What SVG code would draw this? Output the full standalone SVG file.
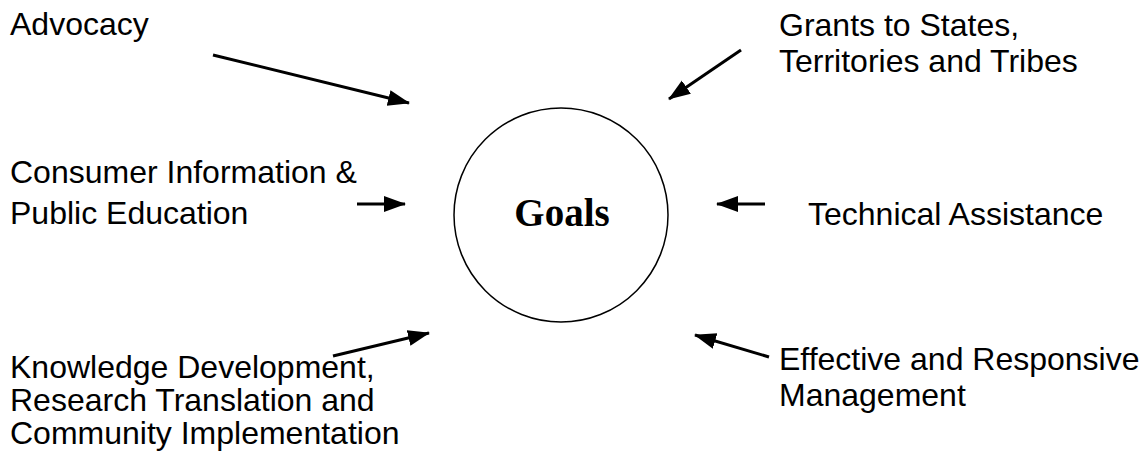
<svg xmlns="http://www.w3.org/2000/svg" width="1146" height="452" viewBox="0 0 1146 452">
<style>
.lbl{font-family:"Liberation Sans",Arial,sans-serif;font-size:32px;fill:#000}
.goal{font-family:"Liberation Serif","Times New Roman",serif;font-size:39px;font-weight:bold;fill:#000}
.arr{stroke:#000;stroke-width:3;fill:none;marker-end:url(#ah)}
</style>
<defs>
<marker id="ah" markerUnits="userSpaceOnUse" markerWidth="24" markerHeight="18" refX="21" refY="8" orient="auto">
<path d="M0,0 L22,8 L0,16 z" fill="#000"/>
</marker>
</defs>
<rect width="1146" height="452" fill="#fff"/>
<g id="goals">
<circle cx="561" cy="215" r="107" fill="none" stroke="#000" stroke-width="1.5"/>
<text class="goal" x="562" y="226" text-anchor="middle">Goals</text>
</g>
<g id="advocacy"><text class="lbl" x="10" y="35">Advocacy</text></g>
<g id="consumer"><text class="lbl" x="10" y="183">Consumer Information &amp;</text><text class="lbl" x="10" y="224">Public Education</text></g>
<g id="knowledge"><text class="lbl" x="10" y="378">Knowledge Development,</text><text class="lbl" x="10" y="411">Research Translation and</text><text class="lbl" x="10" y="444">Community Implementation</text></g>
<g id="grants"><text class="lbl" x="779" y="36">Grants to States,</text><text class="lbl" x="779" y="72">Territories and Tribes</text></g>
<g id="technical"><text class="lbl" x="808" y="225">Technical Assistance</text></g>
<g id="effective"><text class="lbl" x="779" y="370">Effective and Responsive</text><text class="lbl" x="779" y="406">Management</text></g>
<g id="connectors">
<line class="arr" x1="213" y1="55" x2="409" y2="103"/>
<line class="arr" x1="741" y1="50" x2="669" y2="99"/>
<line class="arr" x1="357" y1="204" x2="405" y2="204"/>
<line class="arr" x1="765" y1="204" x2="717" y2="204"/>
<line class="arr" x1="333" y1="356" x2="429" y2="333"/>
<line class="arr" x1="769" y1="357" x2="695" y2="335"/>
</g>
</svg>
